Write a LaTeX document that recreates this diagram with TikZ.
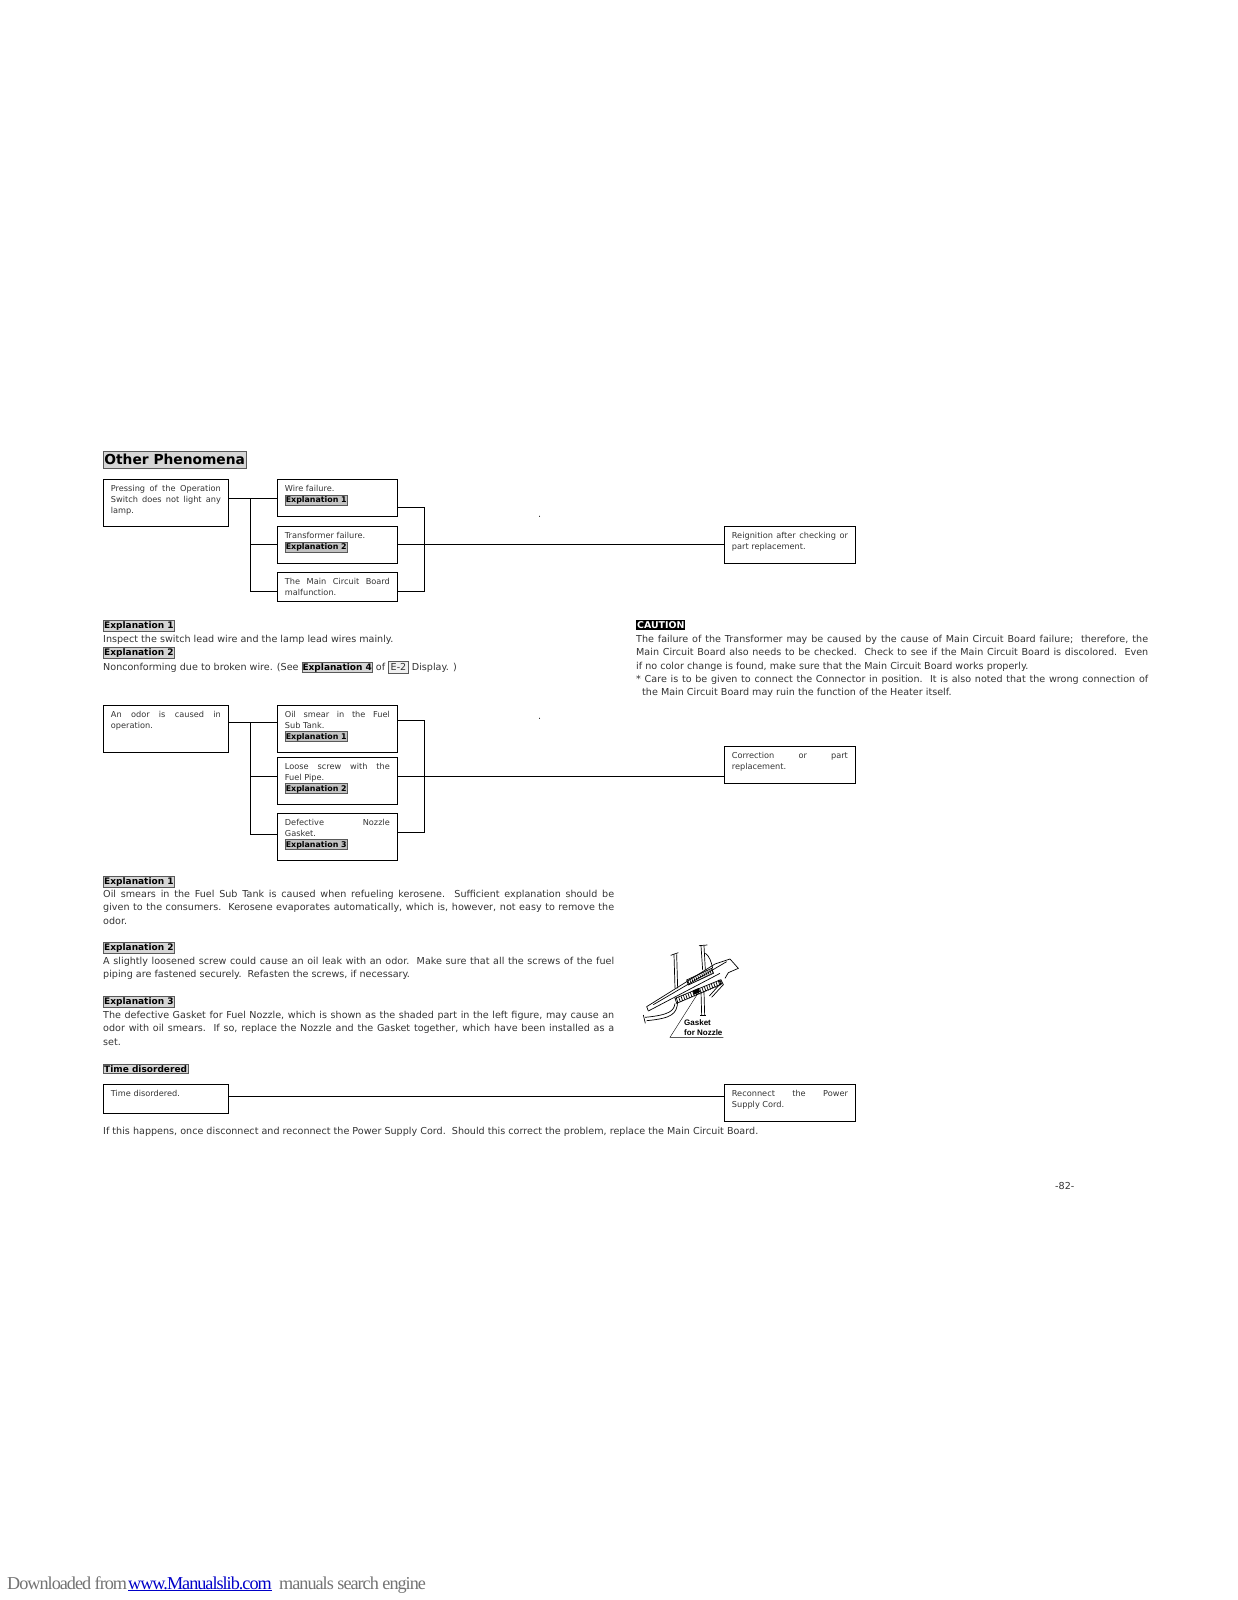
\documentclass[tikz,border=0pt]{standalone}
\usepackage{fontspec}
\usepackage{tikz}
\usetikzlibrary{positioning, calc}
\setmainfont{DejaVu Sans}
\newfontfamily\footfont[LetterSpace=-5.5]{Liberation Serif}
\newfontfamily\labelfont{Liberation Sans}
\definecolor{taggray}{gray}{0.84}
\definecolor{tagdark}{gray}{0.76}
\definecolor{tagedge}{gray}{0.35}
\definecolor{linkblue}{RGB}{0,0,200}
\setlength{\fboxsep}{0.5pt}
\setlength{\fboxrule}{0.4pt}
\newcommand{\tagbox}[1]{\fcolorbox{tagedge}{tagdark}{\rule[-1.5pt]{0pt}{8.5pt}\textcolor{black}{\fontsize{7.9}{9}\selectfont\bfseries #1}}}
\newcommand{\reftag}[1]{\fcolorbox{tagedge}{taggray}{\textcolor{black}{\fontsize{9}{11}\selectfont\bfseries #1}}}
\newcommand{\lighttag}[1]{\fcolorbox{tagedge}{black!6}{\rule[-2pt]{0pt}{10pt}\,#1\,}}
\newcommand{\boxbody}[2]{\vbox to #1{\vskip 6pt\noindent #2\par\vss}}
\tikzset{
  flowbox/.style={draw, line width=0.8pt, anchor=north west, inner xsep=7.5pt, inner ysep=0pt, text=black!80,
    align=justify, font=\fontsize{8.2}{10.8}\selectfont},
  headtag/.style={draw=tagedge, fill=taggray, line width=0.4pt, anchor=west, inner xsep=1pt, inner ysep=1pt,
    font=\fontsize{9}{11}\selectfont\bfseries},
  para/.style={anchor=north west, inner sep=0pt, align=justify, text=black!80, font=\fontsize{9.6}{13.3}\selectfont},
  plain/.style={anchor=west, inner sep=0pt, text=black!80, font=\fontsize{9.6}{13.3}\selectfont},
  foot/.style={anchor=base west, inner sep=0pt, font=\footfont\fontsize{18.2}{20}\selectfont},
  wire/.style={line width=0.8pt},
}
\begin{document}
\begin{tikzpicture}[x=1pt, y=-1pt]
  \useasboundingbox (0,0) rectangle (1237,1600);

  % Title
  \node[draw=tagedge, fill=taggray, line width=0.4pt, anchor=north west, minimum width=143pt, minimum height=17pt, inner sep=0pt, font=\fontsize{13.8}{15}\selectfont\bfseries] (title) at (103,451) {Other Phenomena};

  % First chart
  \node[flowbox, text width=110pt, minimum height=47pt] (pressing) at (103,479) {\boxbody{47pt}{Pressing of the Operation\linebreak Switch does not light any\linebreak lamp.}};
  \node[flowbox, text width=105pt, minimum height=37pt] (wirefail) at (277,479) {\boxbody{37pt}{Wire failure.\\\tagbox{Explanation 1}}};
  \node[flowbox, text width=105pt, minimum height=37pt] (transfail) at (277,526) {\boxbody{37pt}{Transformer failure.\\\tagbox{Explanation 2}}};
  \node[flowbox, text width=105pt, minimum height=29pt] (boardfail) at (277,572) {\boxbody{29pt}{The Main Circuit Board\linebreak malfunction.}};
  \node[flowbox, text width=116pt, minimum height=37pt] (reignition) at (724,526) {\boxbody{37pt}{Reignition after checking or\linebreak part replacement.}};
  \node[plain] (dota) at (538,517) {.};

  % Second chart
  \node[flowbox, text width=110pt, minimum height=47pt] (odor) at (103,705) {\boxbody{47pt}{An odor is caused in\linebreak operation.}};
  \node[flowbox, text width=105pt, minimum height=47pt] (oilsmear) at (277,705) {\boxbody{47pt}{Oil smear in the Fuel\linebreak Sub Tank.\\\tagbox{Explanation 1}}};
  \node[flowbox, text width=105pt, minimum height=47pt] (loosescrew) at (277,757) {\boxbody{47pt}{Loose screw with the\linebreak Fuel Pipe.\\\tagbox{Explanation 2}}};
  \node[flowbox, text width=105pt, minimum height=47pt] (gasketfail) at (277,813) {\boxbody{47pt}{Defective Nozzle\linebreak Gasket.\\\tagbox{Explanation 3}}};
  \node[flowbox, text width=116pt, minimum height=37pt] (correction) at (724,746) {\boxbody{37pt}{Correction or part\linebreak replacement.}};
  \node[plain] (dotb) at (538,719) {.};

  % Third chart
  \node[flowbox, text width=110pt, minimum height=29pt] (timebox) at (103,1084) {\boxbody{29pt}{Time disordered.}};
  \node[flowbox, text width=116pt, minimum height=37pt] (reconnect) at (724,1084) {\boxbody{37pt}{Reconnect the Power\linebreak Supply Cord.}};

  % Bus points
  \coordinate (busa) at (250,498);
  \coordinate (busb) at (250,544);
  \coordinate (busc) at (250,591);
  \coordinate (busd) at (424,507);
  \coordinate (buse) at (424,544);
  \coordinate (busf) at (424,591);
  \coordinate (busg) at (250,722);
  \coordinate (bush) at (250,776);
  \coordinate (busi) at (250,834);
  \coordinate (busj) at (424,720);
  \coordinate (busk) at (424,776);
  \coordinate (busl) at (424,832);
  \coordinate (busm) at (400,1096);

  % Connectors
  \draw[wire] (pressing.east |- busa) -- (wirefail.west |- busa);
  \draw[wire] (busa) -- (busc) -- (boardfail.west |- busc);
  \draw[wire] (busb) -- (transfail.west |- busb);
  \draw[wire] (wirefail.east |- busd) -- (busd) -- (busf) -- (boardfail.east |- busf);
  \draw[wire] (transfail.east |- buse) -- (reignition.west |- buse);
  \draw[wire] (odor.east |- busg) -- (oilsmear.west |- busg);
  \draw[wire] (busg) -- (busi) -- (gasketfail.west |- busi);
  \draw[wire] (bush) -- (loosescrew.west |- bush);
  \draw[wire] (oilsmear.east |- busj) -- (busj) -- (busl) -- (gasketfail.east |- busl);
  \draw[wire] (loosescrew.east |- busk) -- (correction.west |- busk);
  \draw[wire] (timebox.east |- busm) -- (reconnect.west |- busm);

  % Texts of the first chart
  \node[headtag] (expla) at (103,626) {Explanation 1};
  \node[plain] (inspect) at (103,640) {Inspect the switch lead wire and the lamp lead wires mainly.};
  \node[headtag] (explb) at (103,653) {Explanation 2};
  \node[plain] (nonconf) at (103,667) {Nonconforming due to broken wire. (See \reftag{Explanation 4} of \lighttag{E-2} Display. )};

  % Caution
  \node[fill=black, text=white, anchor=west, inner xsep=1pt, inner ysep=1pt, font=\fontsize{9.4}{11}\selectfont\bfseries] (caution) at (636,625) {CAUTION};
  \node[para, text width=512pt] (cautiontext) at (636,635) {The failure of the Transformer may be caused by the cause of Main Circuit Board failure;\ \ therefore, the\linebreak Main Circuit Board also needs to be checked.\ \ Check to see if the Main Circuit Board is discolored.\ \ Even\linebreak if no color change is found, make sure that the Main Circuit Board works properly.\hfill\null\linebreak * Care is to be given to connect the Connector in position.\ \ It is also noted that the wrong connection of\linebreak \hspace*{6pt}the Main Circuit Board may ruin the function of the Heater itself.\hfill\null};

  % Texts of the second chart
  \node[headtag] (explc) at (103,882) {Explanation 1};
  \node[para, text width=511pt] (oiltext) at (103,890) {Oil smears in the Fuel Sub Tank is caused when refueling kerosene. Sufficient explanation should be\linebreak given to the consumers.\ \ Kerosene evaporates automatically, which is, however, not easy to remove the\linebreak odor.\hfill\null};
  \node[headtag] (expld) at (103,948) {Explanation 2};
  \node[para, text width=511pt] (screwtext) at (103,957) {A slightly loosened screw could cause an oil leak with an odor.\ \ Make sure that all the screws of the fuel\linebreak piping are fastened securely.\ \ Refasten the screws, if necessary.\hfill\null};
  \node[headtag] (explf) at (103,1002) {Explanation 3};
  \node[para, text width=511pt] (gaskettext) at (103,1011) {The defective Gasket for Fuel Nozzle, which is shown as the shaded part in the left figure, may cause an\linebreak odor with oil smears.\ \ If so, replace the Nozzle and the Gasket together, which have been installed as a\linebreak set.\hfill\null};

  % Third chart texts
  \node[headtag] (timehead) at (103,1069) {Time disordered};
  \node[plain] (timetext) at (103,1132) {If this happens, once disconnect and reconnect the Power Supply Cord.\ \ Should this correct the problem, replace the Main Circuit Board.};

  % Nozzle figure
  \begin{scope}[shift={(620,920)}, x=0.3333pt, y=-0.3333pt, line width=0.7pt]
    \draw (80,260) -- (285,132) -- (330,117) -- (355,145) -- (325,158) -- (315,175);
    \draw (85,273) -- (300,160);
    \draw (80,260) -- (85,273);
    \draw (100,254) -- (320,125);
    \foreach \xa/\xb in {162/165,170/173}
    \draw (\xa,103) -- (\xb,205);
    \draw (152,106) -- (175,98);
    \foreach \xa/\xb in {243/248,252/256}
    \draw (\xa,77) -- (\xb,150);
    \draw (237,77) -- (262,75);
    \draw (256,100) .. controls (268,108) and (274,125) .. (278,145);
    \foreach \xa/\xb in {243/245,252/254}
    \draw (\xa,215) -- (\xb,285);
    \draw (240,285) -- (257,285);
    % Blocks
    \draw (200,180) -- (275,145) -- (280,160) -- (205,195) -- cycle;
    \foreach \t in {0,6,...,72}
    \draw (203+\t,180-\t*0.47) -- (208+\t,194-\t*0.47);
    \draw (165,235) -- (300,180) -- (305,192) -- (170,250) -- cycle;
    \foreach \t in {0,7,...,126}
    \draw (169+\t,234-\t*0.41) -- (174+\t,249-\t*0.41);
    \fill (218,212) -- (236,204) -- (240,216) -- (222,224) -- cycle;
    % Hose
    \draw (165,250) .. controls (162,272) and (150,285) .. (75,292);
    \draw (173,247) .. controls (170,282) and (155,295) .. (80,302);
    \draw (70,285) -- (76,310);
    % Hook
    \draw (268,228) -- (302,190) -- (295,180);
    \draw (275,232) -- (310,194) -- (302,178);
    % Leader
    \draw[line width=0.4pt] (310,352) -- (150,352) -- (235,218);
  \end{scope}
  \node[anchor=north west, inner sep=0pt, align=left, font=\labelfont\fontsize{8}{10}\selectfont\bfseries] (gasketlabel) at (684,1019) {Gasket\\for Nozzle};

  % Page number and footer
  \node[plain] (pagenum) at (1055,1186) {-82-};
  \node[foot, text=black!55] (footfrom) at (7,1589) {Downloaded from};
  \node[foot, text=linkblue] (footlink) at (128,1589) {www.Manualslib.com};
  \node[foot, text=black!55] (footrest) at (279,1589) {manuals search engine};
  \draw[linkblue, line width=0.8pt] ($(footlink.base west)+(0,1.5)$) -- ($(footlink.base east)+(0,1.5)$);
\end{tikzpicture}
\end{document}
